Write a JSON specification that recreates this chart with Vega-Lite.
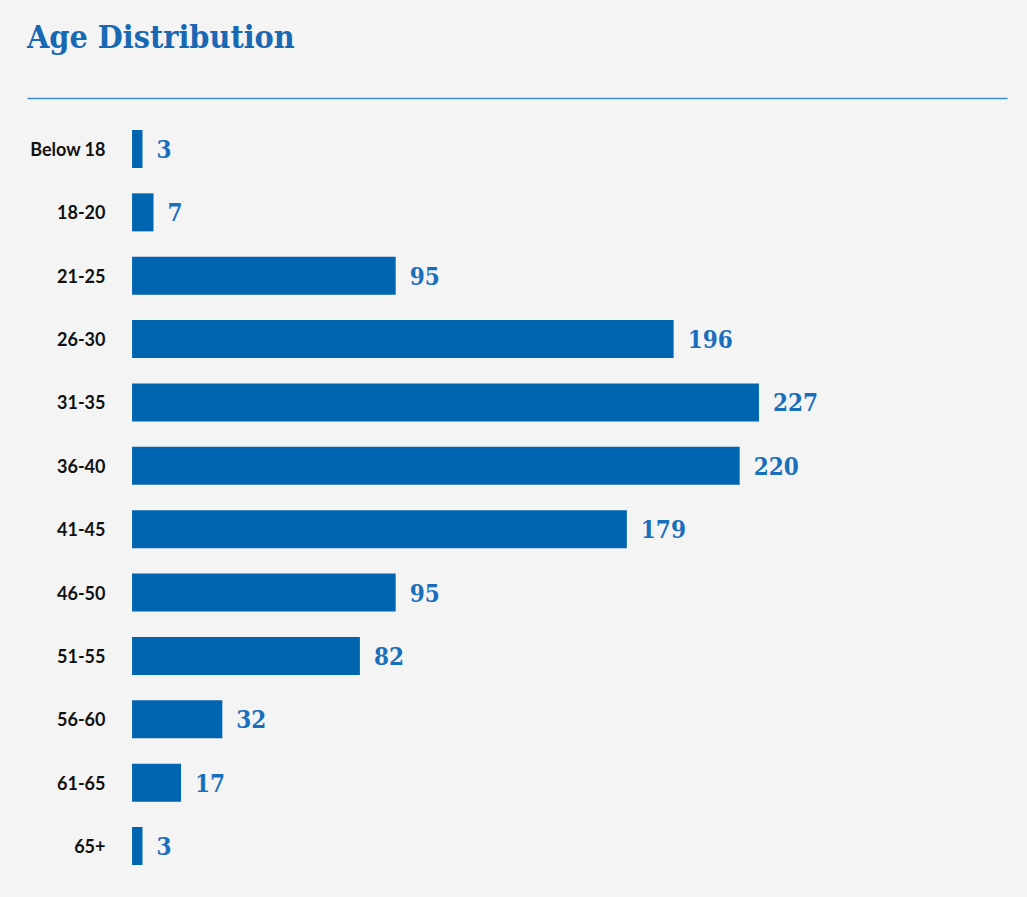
{
  "$schema": "https://vega.github.io/schema/vega-lite/v6.json",
  "autosize": "none",
  "width": 980,
  "height": 779,
  "padding": {"left": 27, "top": 108, "right": 20, "bottom": 10},
  "background": "#f4f4f4",
  "title": {
    "text": "Age Distribution",
    "anchor": "start",
    "frame": "group",
    "font": "DejaVu Serif Condensed, DejaVu Serif",
    "fontSize": 32,
    "fontWeight": "bold",
    "color": "#1868b3",
    "offset": 43
  },
  "data": {
    "values": [
      {"age": "Below 18", "count": 3},
      {"age": "18-20", "count": 7},
      {"age": "21-25", "count": 95},
      {"age": "26-30", "count": 196},
      {"age": "31-35", "count": 227},
      {"age": "36-40", "count": 220},
      {"age": "41-45", "count": 179},
      {"age": "46-50", "count": 95},
      {"age": "51-55", "count": 82},
      {"age": "56-60", "count": 32},
      {"age": "61-65", "count": 17},
      {"age": "65+", "count": 3}
    ]
  },
  "encoding": {
    "y": {
      "field": "age",
      "type": "nominal",
      "sort": null,
      "scale": {"paddingInner": 0.4, "paddingOuter": 0.347},
      "axis": {
        "title": null,
        "domain": false,
        "ticks": false,
        "labelPadding": -78,
        "labelOffset": 2,
        "labelAlign": "right",
        "labelFont": "Lato",
        "labelFontSize": 18,
        "labelFontWeight": "bold",
        "labelColor": "#111111"
      }
    },
    "x": {
      "field": "count",
      "type": "quantitative",
      "scale": {"domain": [-38.97, 317.14], "nice": false, "zero": false},
      "axis": {
        "orient": "top",
        "title": null,
        "labels": false,
        "ticks": false,
        "grid": false,
        "domain": true,
        "domainColor": "#3a8fd8",
        "domainWidth": 1.5,
        "offset": 10
      }
    }
  },
  "layer": [
    {
      "mark": {"type": "bar", "color": "#0065b1"},
      "encoding": {"x2": {"datum": -0.8}}
    },
    {
      "mark": {
        "type": "text",
        "align": "left",
        "baseline": "middle",
        "dx": 14,
        "dy": 2,
        "font": "DejaVu Serif Condensed, DejaVu Serif",
        "fontSize": 24,
        "fontWeight": "bold",
        "color": "#1a6fbd"
      },
      "encoding": {"text": {"field": "count", "type": "quantitative"}}
    }
  ],
  "config": {"view": {"stroke": null}}
}
